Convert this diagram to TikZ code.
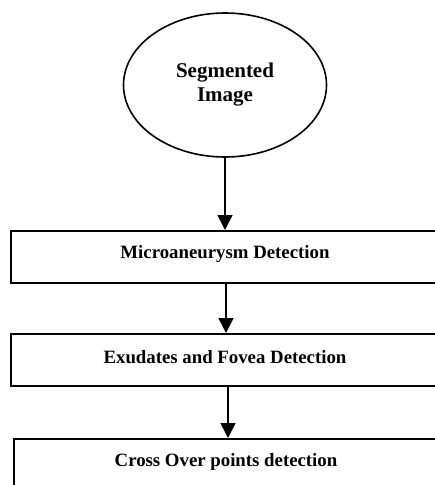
\documentclass[tikz,border=0pt]{standalone}
\usepackage{fontspec}
\setmainfont{Liberation Serif}
\usetikzlibrary{shapes.geometric,arrows.meta}
\begin{document}
\begin{tikzpicture}[x=1pt,y=-1pt,
  flow/.style={line width=1.6pt,-{Triangle[length=15pt,width=15pt]}},
  stepbox/.style={draw,line width=1.6pt,rectangle,inner sep=0pt,anchor=north west},
  lbl/.style={font=\fontsize{18.8}{22}\selectfont\bfseries},
  oval/.style={draw,line width=1.6pt,ellipse,inner sep=0pt,minimum width=203pt,minimum height=144pt,
     align=center,font=\fontsize{21}{24}\selectfont\bfseries}]
\useasboundingbox (0,0) rectangle (435,485);
\clip (0,0) rectangle (435,485);
\node[oval] (seg) at (225,85) {Segmented\\Image};
\node[stepbox,minimum width=440pt,minimum height=52pt] (micro) at (10,230) {};
\node[lbl] (microt) at (225,254) {Microaneurysm Detection};
\node[stepbox,minimum width=440pt,minimum height=52pt] (exu) at (10,333) {};
\node[lbl] (exut) at (225,357) {Exudates and Fovea Detection};
\node[stepbox,minimum width=440pt,minimum height=80pt] (cross) at (13,438) {};
\node[lbl] (crosst) at (226,462) {Cross Over points detection};
\draw[flow] (seg.south) -- (seg.south |- micro.north);
\draw[flow] (226,282) coordinate (a2) -- (a2 |- exu.north);
\draw[flow] (228,385) coordinate (a3) -- (a3 |- cross.north);
\end{tikzpicture}
\end{document}
